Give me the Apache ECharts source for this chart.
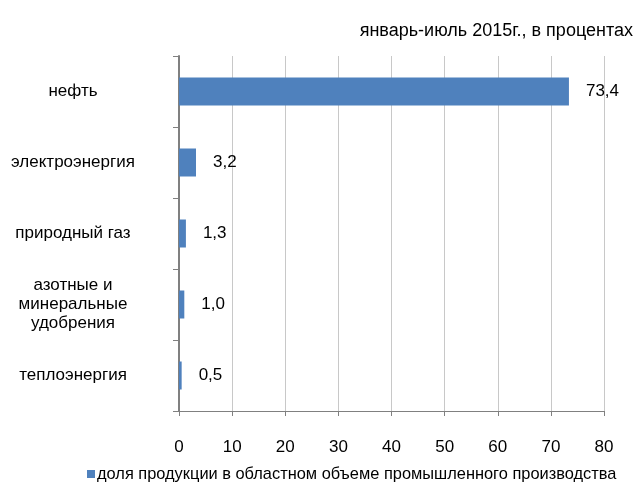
<!DOCTYPE html>
<html><head><meta charset="utf-8">
<script src="https://cdn.jsdelivr.net/npm/echarts@6/dist/echarts.min.js"></script>
<style>html,body{margin:0;padding:0;background:#fff}#c{width:638px;height:484px}</style>
</head><body><div id="c"></div>
<script>
const categories = ['нефть', 'электроэнергия', 'природный газ', 'азотные и\nминеральные\nудобрения', 'теплоэнергия'];
const values = [73.4, 3.2, 1.3, 1.0, 0.5];
const seriesName = 'доля продукции в областном объеме промышленного производства';
const titleText = 'январь-июль 2015г., в процентах';
const xTicks = {min: 0, max: 80, interval: 10};

const chart = echarts.init(document.getElementById('c'));
const font = 'Arial, "Liberation Sans", sans-serif';
chart.setOption({
  animation: false,
  textStyle: {fontFamily: font},
  title: {text: titleText, right: 0, top: 17, textStyle: {fontSize: 18, fontWeight: 'normal', color: '#000', fontFamily: font}},
  legend: {top: 461, left: 82, itemWidth: 8, itemHeight: 8, itemGap: 4, icon: 'rect',
    textStyle: {fontSize: 16.4, color: '#000', fontFamily: font, padding: [0,0,0,-3]}},
  grid: {left: 179, right: 34, top: 56, bottom: 73},
  xAxis: {type: 'value', min: xTicks.min, max: xTicks.max, interval: xTicks.interval,
    axisLine: {show: true, lineStyle: {color: '#808080', width: 1}},
    axisTick: {show: true, length: 5, lineStyle: {color: '#808080'}},
    splitLine: {show: true, lineStyle: {color: '#c8c8c8'}},
    axisLabel: {fontSize: 17, color: '#000', margin: 28, fontFamily: font}},
  yAxis: {type: 'category', data: categories, inverse: true,
    axisLine: {show: true, lineStyle: {color: '#808080', width: 2}},
    axisTick: {show: true, length: 6, lineStyle: {color: '#808080'}},
    axisLabel: {fontSize: 17, color: '#000', align: 'center', margin: 106, lineHeight: 19, fontFamily: font}},
  series: [{name: seriesName, type: 'bar', data: values, barWidth: 28,
    itemStyle: {color: '#4f81bd'},
    label: {show: true, position: 'right', distance: 17, fontSize: 17, color: '#000', fontFamily: font,
      formatter: p => String(p.value).includes('.') ? String(p.value).replace('.', ',') : p.value + ',0'}}]
});
</script></body></html>
